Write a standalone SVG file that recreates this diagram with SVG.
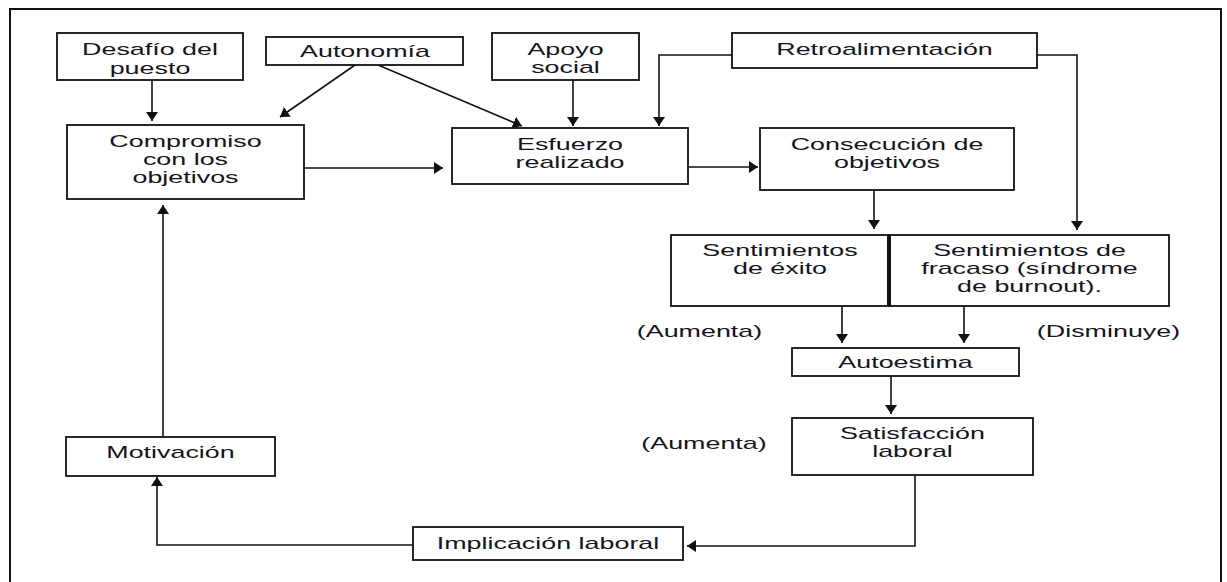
<svg xmlns="http://www.w3.org/2000/svg" width="1227" height="582" viewBox="0 0 1227 582">
  <style>
    .box { fill: #fff; stroke: #111; stroke-width: 1.8; }
    .lbl { font-family: "Liberation Sans", Arial, sans-serif; font-size: 16px; fill: #141420; text-anchor: middle; }
    .wire { fill: none; stroke: #111; stroke-width: 1.6; }
    .frame { fill: #fff; stroke: #111; stroke-width: 2; }
  </style>
  <defs>
    <marker id="arrow" viewBox="0 0 9 12" refX="9" refY="6" markerWidth="9" markerHeight="12" markerUnits="userSpaceOnUse" orient="auto">
      <path d="M0,0 L9,6 L0,12 z" fill="#111"/>
    </marker>
  </defs>

  <!-- outer frame -->
  <rect class="frame" x="10" y="9" width="1211" height="600"/>

  <!-- connectors -->
  <g id="connectors" class="wire" marker-end="url(#arrow)">
    <path d="M152,80 V121"/>
    <path d="M355,65 L280,117"/>
    <path d="M378,65 L522,126"/>
    <path d="M573,80 V126"/>
    <path d="M732,55 H659 V126"/>
    <path d="M1037,55 H1077 V230"/>
    <path d="M304,168 H443"/>
    <path d="M688,167 H758"/>
    <path d="M874,190 V229"/>
    <path d="M842,306 V343"/>
    <path d="M964,306 V343"/>
    <path d="M891,376 V414"/>
    <path d="M915,475 V546 H687"/>
    <path d="M413,545 H157 V477"/>
    <path d="M163,437 V205"/>
  </g>

  <g id="desafio">
    <rect class="box" x="57" y="33" width="186" height="47"/>
    <text class="lbl" transform="translate(150 0) scale(1.68 1)" y="55">Desafío del</text>
    <text class="lbl" transform="translate(150 0) scale(1.68 1)" y="74">puesto</text>
  </g>

  <g id="autonomia">
    <rect class="box" x="266" y="37" width="197" height="28"/>
    <text class="lbl" transform="translate(365 0) scale(1.68 1)" y="57">Autonomía</text>
  </g>

  <g id="apoyo">
    <rect class="box" x="492" y="33" width="147" height="47"/>
    <text class="lbl" transform="translate(565.5 0) scale(1.68 1)" y="55">Apoyo</text>
    <text class="lbl" transform="translate(565.5 0) scale(1.68 1)" y="73">social</text>
  </g>

  <g id="retroalimentacion">
    <rect class="box" x="732" y="33" width="305" height="35"/>
    <text class="lbl" transform="translate(884.5 0) scale(1.68 1)" y="55">Retroalimentación</text>
  </g>

  <g id="compromiso">
    <rect class="box" x="67" y="125" width="237" height="74"/>
    <text class="lbl" transform="translate(185.5 0) scale(1.68 1)" y="147">Compromiso</text>
    <text class="lbl" transform="translate(185.5 0) scale(1.68 1)" y="165">con los</text>
    <text class="lbl" transform="translate(185.5 0) scale(1.68 1)" y="183">objetivos</text>
  </g>

  <g id="esfuerzo">
    <rect class="box" x="452" y="128" width="236" height="56"/>
    <text class="lbl" transform="translate(570 0) scale(1.68 1)" y="150">Esfuerzo</text>
    <text class="lbl" transform="translate(570 0) scale(1.68 1)" y="168">realizado</text>
  </g>

  <g id="consecucion">
    <rect class="box" x="760" y="128" width="254" height="62"/>
    <text class="lbl" transform="translate(887 0) scale(1.68 1)" y="150">Consecución de</text>
    <text class="lbl" transform="translate(887 0) scale(1.68 1)" y="168">objetivos</text>
  </g>

  <g id="exito">
    <rect class="box" x="671" y="235" width="218" height="71"/>
    <text class="lbl" transform="translate(780 0) scale(1.68 1)" y="256">Sentimientos</text>
    <text class="lbl" transform="translate(780 0) scale(1.68 1)" y="274">de éxito</text>
  </g>

  <g id="fracaso">
    <rect class="box" x="889" y="235" width="280" height="71"/>
    <line x1="889" y1="235" x2="889" y2="306" stroke="#111" stroke-width="4"/>
    <text class="lbl" transform="translate(1029.5 0) scale(1.68 1)" y="256">Sentimientos de</text>
    <text class="lbl" transform="translate(1029.5 0) scale(1.68 1)" y="274">fracaso (síndrome</text>
    <text class="lbl" transform="translate(1029.5 0) scale(1.68 1)" y="292">de burnout).</text>
  </g>

  <g id="efectos">
    <text class="lbl" transform="translate(699.5 0) scale(1.68 1)" y="337">(Aumenta)</text>
    <text class="lbl" transform="translate(1108.5 0) scale(1.68 1)" y="337">(Disminuye)</text>
    <text class="lbl" transform="translate(704 0) scale(1.68 1)" y="449">(Aumenta)</text>
  </g>

  <g id="autoestima">
    <rect class="box" x="792" y="348" width="227" height="28"/>
    <text class="lbl" transform="translate(905.5 0) scale(1.68 1)" y="368">Autoestima</text>
  </g>

  <g id="satisfaccion">
    <rect class="box" x="792" y="418" width="241" height="57"/>
    <text class="lbl" transform="translate(912.5 0) scale(1.68 1)" y="439">Satisfacción</text>
    <text class="lbl" transform="translate(912.5 0) scale(1.68 1)" y="457">laboral</text>
  </g>

  <g id="motivacion">
    <rect class="box" x="66" y="437" width="209" height="39"/>
    <text class="lbl" transform="translate(170.5 0) scale(1.68 1)" y="458">Motivación</text>
  </g>

  <g id="implicacion">
    <rect class="box" x="413" y="527" width="270" height="33"/>
    <text class="lbl" transform="translate(548 0) scale(1.68 1)" y="549">Implicación laboral</text>
  </g>
</svg>
